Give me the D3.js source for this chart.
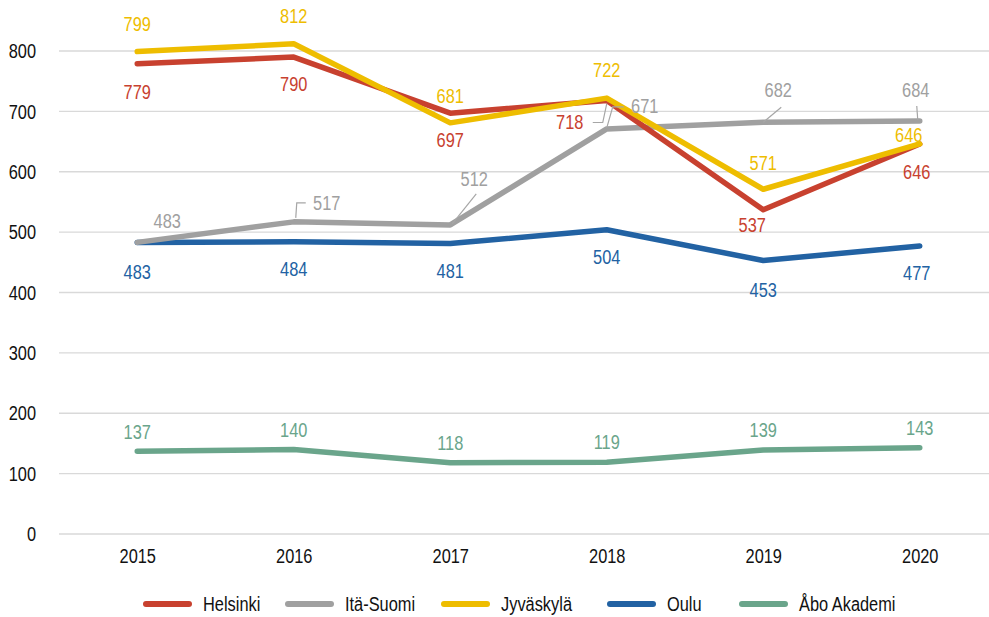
<!DOCTYPE html>
<html><head><meta charset="utf-8">
<script src="https://cdn.jsdelivr.net/npm/d3@7/dist/d3.min.js"></script>
<style>
html,body{margin:0;padding:0;background:#fff;}
svg{display:block;font-family:"Liberation Sans",Arial,sans-serif;}
</style></head>
<body><svg id="chart" width="989" height="617"></svg>
<script>
const years = ["2015","2016","2017","2018","2019","2020"];
const yTicks = [0,100,200,300,400,500,600,700,800];
const seriesNames = ["Helsinki","Itä-Suomi","Jyväskylä","Oulu","Åbo Akademi"];
const helsinki = [779,790,697,718,537,646];
const itaSuomi = [483,517,512,671,682,684];
const jyvaskyla = [799,812,681,722,571,646];
const oulu = [483,484,481,504,453,477];
const aboAkademi = [137,140,118,119,139,143];

const colors = ["#C8412F","#A0A0A0","#EEBD00","#2262A3","#6AA58B"];
// label offsets (layout): [dx, dy] relative to point
const labelOffsets = [
  [[0,28],[0,27],[0,27],[-37,21],[-11,15],[-3,28]],
  [[30,-22],[33,-19],[24,-46],[38,-23],[15,-32],[-4,-31]],
  [[0,-28],[0,-28],[0,-27],[0,-28],[0,-27],[-11,-9]],
  [[0,29],[0,27],[0,27],[0,27],[0,29],[-3,27]],
  [[0,-20],[0,-20],[0,-20],[0,-20],[0,-20],[0,-20]]
];
// leader lines (layout): series index, point index, relative path
const leaders = [
  {s:1,i:1,pts:[[2,-4],[3,-19],[12,-19]]},
  {s:1,i:2,pts:[[2,-1],[26,-31]]},
  {s:1,i:3,pts:[[0,-1],[6,-22],[17,-22]]},
  {s:0,i:3,pts:[[-14,22],[-4,22],[0,3]]},
  {s:1,i:4,pts:[[0,0],[18,-15]]},
  {s:1,i:5,pts:[[-2,-1],[-3,-15]]}
];
const legendX = [143,285,441,607,739];
const FS = 21, SX = 0.78;

const allSeries = [helsinki,itaSuomi,jyvaskyla,oulu,aboAkademi];
const svg = d3.select("#chart");
const x = d3.scalePoint().domain(years).range([59,998]).padding(0.5);
const y = d3.scaleLinear().domain([0,800]).range([534,51]);

// condensed text helper: move x/y into a transform with horizontal compression
function condense(sel){
  sel.each(function(){
    const t = d3.select(this);
    const tx = +t.attr("x")||0, ty = +t.attr("y")||0;
    t.attr("x",0).attr("y",0)
     .attr("transform",`translate(${tx},${ty}) scale(${SX},1)`);
  });
}

// gridlines
svg.append("g").selectAll("line").data(yTicks).join("line")
  .attr("x1",59).attr("x2",989)
  .attr("y1",d=>y(d)).attr("y2",d=>y(d))
  .attr("stroke","#D9D9D9").attr("stroke-width",1.3);

// y axis
const yAxis = svg.append("g").attr("transform","translate(44,0)")
  .call(d3.axisLeft(y).tickValues(yTicks).tickSize(0).tickPadding(8));
yAxis.select(".domain").remove();
yAxis.selectAll("text").attr("font-size",FS).attr("fill","#111").attr("font-family",null).call(condense);

// x axis
const xAxis = svg.append("g").attr("transform","translate(0,546)")
  .call(d3.axisBottom(x).tickSize(0).tickPadding(2));
xAxis.select(".domain").remove();
xAxis.selectAll("text").attr("font-size",FS).attr("fill","#111").attr("font-family",null).call(condense);

const line = d3.line().x((d,i)=>x(years[i])).y(d=>y(d));

// draw order: Åbo, Oulu, Itä-Suomi, Helsinki, Jyväskylä
const order = [4,3,1,0,2];
order.forEach(s=>{
  svg.append("path").datum(allSeries[s])
    .attr("d",line).attr("fill","none")
    .attr("stroke",colors[s]).attr("stroke-width",5.5)
    .attr("stroke-linejoin","round").attr("stroke-linecap","round");
});

// leader lines
leaders.forEach(l=>{
  const px = x(years[l.i]), py = y(allSeries[l.s][l.i]);
  svg.append("path")
    .attr("d", d3.line()(l.pts.map(p=>[px+p[0],py+p[1]])))
    .attr("fill","none").attr("stroke","#A6A6A6").attr("stroke-width",1.2);
});

// labels
allSeries.forEach((vals,s)=>{
  svg.append("g").selectAll("text").data(vals).join("text")
    .attr("x",(d,i)=>x(years[i])+labelOffsets[s][i][0])
    .attr("y",(d,i)=>y(d)+labelOffsets[s][i][1])
    .attr("text-anchor","middle").attr("dominant-baseline","central")
    .attr("font-size",FS).attr("fill",colors[s])
    .text(d=>d).call(condense);
});

// legend
const lg = svg.append("g");
seriesNames.forEach((n,s)=>{
  const gx = legendX[s];
  lg.append("line").attr("x1",gx+3).attr("x2",gx+46).attr("y1",604).attr("y2",604)
    .attr("stroke",colors[s]).attr("stroke-width",6).attr("stroke-linecap","round");
  lg.append("text").attr("x",gx+60).attr("y",604).attr("dominant-baseline","central")
    .attr("font-size",FS).attr("fill","#111").text(n).call(condense);
});
</script></body></html>
